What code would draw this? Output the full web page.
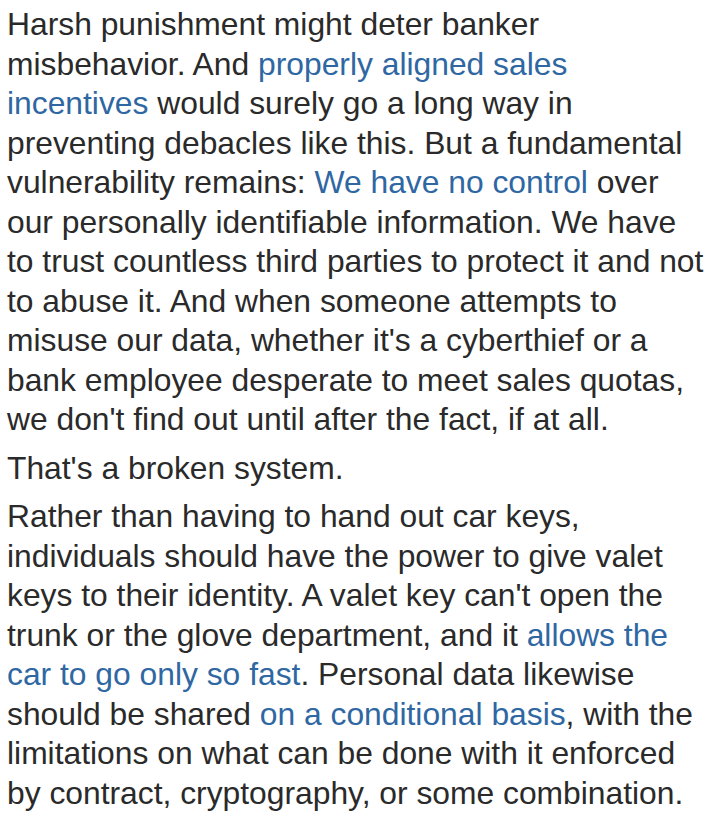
<!DOCTYPE html>
<html><head><meta charset="utf-8">
<script src="https://cdn.jsdelivr.net/npm/chart.js@4"></script>
<style>
html,body{margin:0;background:#fff;overflow:hidden;}
body{font-family:"Liberation Sans",Arial,sans-serif;font-size:31.8px;color:#2a2a2a;padding:5px 0 0 7px;}
p{margin:0 0 9px 0;line-height:39.5px;white-space:nowrap;}
a{color:#2f67a3;text-decoration:none;}
</style></head><body>
<p>Harsh punishment might deter banker<br>misbehavior. And <a>properly aligned sales</a><br><a>incentives</a> would surely go a long way in<br>preventing debacles like this. But a fundamental<br>vulnerability remains: <a>We have no control</a> over<br>our personally identifiable information. We have<br>to trust countless third parties to protect it and not<br>to abuse it. And when someone attempts to<br>misuse our data, whether it's a cyberthief or a<br>bank employee desperate to meet sales quotas,<br>we don't find out until after the fact, if at all.</p>
<p>That's a broken system.</p>
<p>Rather than having to hand out car keys,<br>individuals should have the power to give valet<br>keys to their identity. A valet key can't open the<br>trunk or the glove department, and it <a>allows the</a><br><a>car to go only so fast</a>. Personal data likewise<br>should be shared <a>on a conditional basis</a>, with the<br>limitations on what can be done with it enforced<br>by contract, cryptography, or some combination.</p>
</body></html>
